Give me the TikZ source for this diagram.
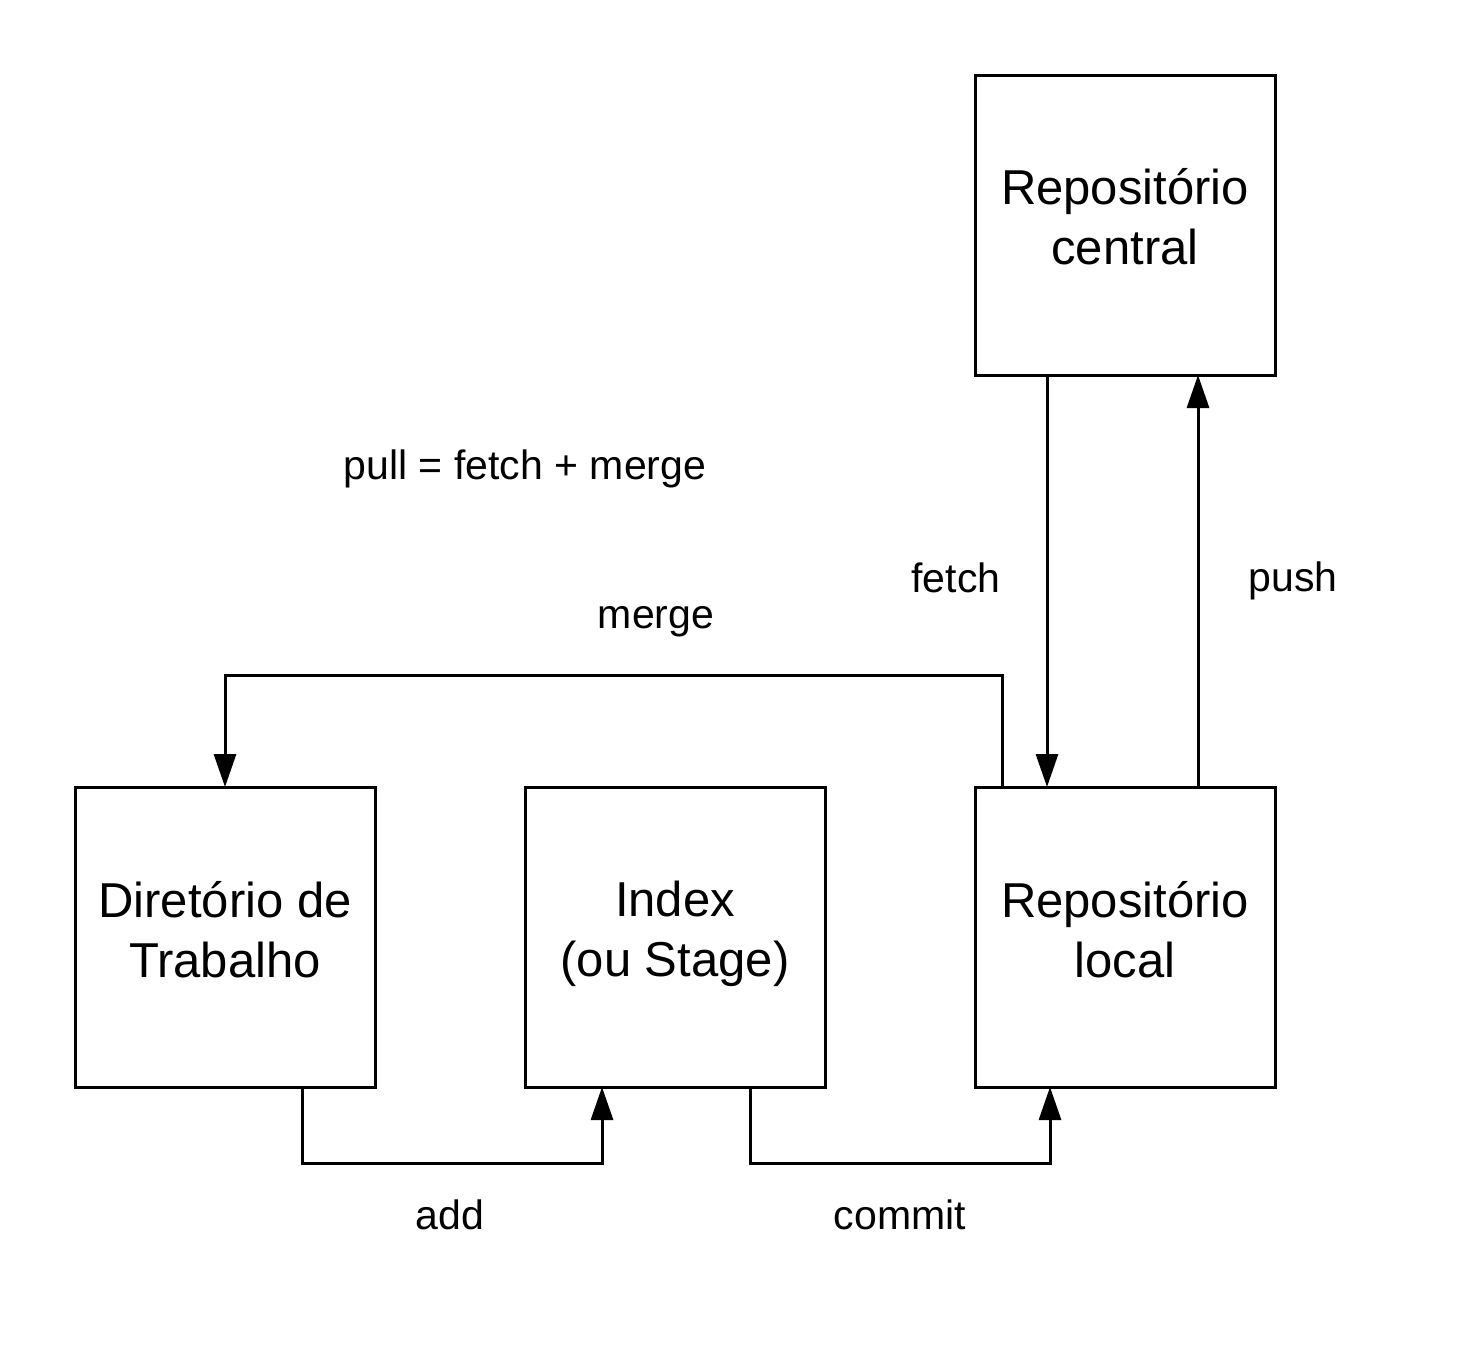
\documentclass[tikz,border=0pt]{standalone}
\usepackage{fontspec}
\setmainfont{Liberation Sans}
\usetikzlibrary{arrows.meta}
\begin{document}
\begin{tikzpicture}[x=1pt,y=-1pt,
  box/.style={draw,line width=3pt,minimum width=300pt,minimum height=300pt,inner sep=0pt},
  boxtext/.style={align=center,inner sep=0pt,font=\fontsize{49}{60}\selectfont},
  lbl/.style={font=\fontsize{41}{49}\selectfont,inner sep=0pt},
  conn/.style={line width=3pt,-{Triangle[width=22pt,length=33pt]}}]
\useasboundingbox (0,0) rectangle (1463,1350);
\node[box] (central) at (1125,225) {};
\node[box] (dir) at (225,937) {};
\node[box] (index) at (675,937) {};
\node[box] (local) at (1125,937) {};
\node[boxtext] (tcentral) at ([yshift=8pt]central.center) {Repositório\\central};
\node[boxtext] (tdir) at ([yshift=7pt]dir.center) {Diretório de\\Trabalho};
\node[boxtext] (tindex) at ([yshift=3pt]index.center) {Index\\(ou Stage)};
\node[boxtext] (tlocal) at ([yshift=7pt]local.center) {Repositório\\local};
\coordinate (fa) at (1047,375);
\coordinate (fb) at (1047,787);
\coordinate (pa) at (1198,787);
\coordinate (pb) at (1198,375);
\coordinate (ma) at (1002,787);
\coordinate (mb) at (225,787);
\coordinate (aa) at (302,1087);
\coordinate (ab) at (602,1087);
\coordinate (ca) at (750,1087);
\coordinate (cb) at (1050,1087);
\draw[conn] (fa) -- (fb);
\draw[conn] (pa) -- (pb);
\draw[conn] (ma) -- (1002,675) -- (225,675) -- (mb);
\draw[conn] (aa) -- (302,1163) -- (602,1163) -- (ab);
\draw[conn] (ca) -- (750,1163) -- (1050,1163) -- (cb);
\node[lbl] (pull) at (525,469) {pull = fetch + merge};
\node[lbl] (lfetch) at (956,578) {fetch};
\node[lbl] (lpush) at (1293,581) {push};
\node[lbl] (lmerge) at (656,622) {merge};
\node[lbl] (ladd) at (450,1215) {add};
\node[lbl] (lcommit) at (900,1215) {commit};
\end{tikzpicture}
\end{document}
